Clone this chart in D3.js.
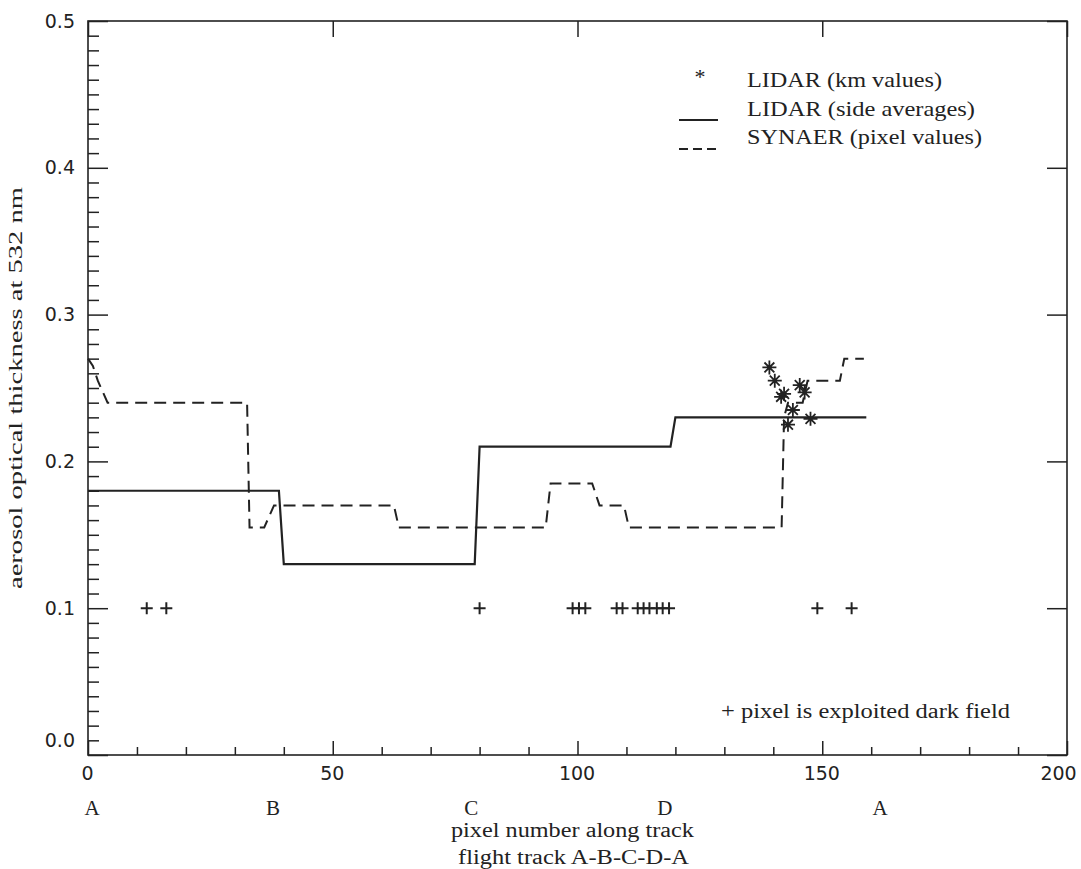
<!DOCTYPE html>
<html>
<head>
<meta charset="utf-8">
<script src="https://cdn.jsdelivr.net/npm/d3@7"></script>
<style>
  html, body { margin: 0; padding: 0; background: #fff; }
  svg { display: block; }
</style>
</head>
<body>
<svg id="chart" width="1081" height="869"></svg>
<script>
// ---------- data ----------
const yTicks = [0.0, 0.1, 0.2, 0.3, 0.4, 0.5];
const yTickLabels = ["0.0", "0.1", "0.2", "0.3", "0.4", "0.5"];
const xTicks = [0, 50, 100, 150, 200];
const xTickLabels = ["0", "50", "100", "150", "200"];

const cornerLabels = ["A", "B", "C", "D", "A"];
const cornerPixels = [0, 37, 77.5, 117, 161];

// LIDAR side averages (solid)
const lidarAvgX = [0, 39, 40, 79, 80, 119, 120, 159];
const lidarAvgY = [0.18, 0.18, 0.13, 0.13, 0.21, 0.21, 0.23, 0.23];

// SYNAER pixel values (dashed)
const synaerX = [0, 1, 2, 4, 32.5, 33, 36, 38, 62.5, 63.5, 93.5, 94.5, 103, 104.5, 109.5, 110.5, 141.7, 142.2, 143, 146, 147, 153.6, 154.5, 158.5];
const synaerY = [0.27, 0.265, 0.255, 0.24, 0.24, 0.155, 0.155, 0.17, 0.17, 0.155, 0.155, 0.185, 0.185, 0.17, 0.17, 0.155, 0.155, 0.23, 0.24, 0.24, 0.255, 0.255, 0.27, 0.27];

// LIDAR km values (asterisks)
const lidarKmX = [139.2, 140.3, 141.6, 142.2, 143.0, 144.0, 145.4, 146.4, 147.6];
const lidarKmY = [0.264, 0.255, 0.244, 0.246, 0.225, 0.235, 0.252, 0.247, 0.229];

// exploited dark-field pixels (+ at 0.1)
const darkFieldX = [12, 16, 80, 99, 100.3, 101.6, 108, 109.2, 112.3, 113.5, 114.7, 116.2, 117.4, 118.7, 149, 156];
const darkFieldY = 0.1;

// ---------- layout ----------
const L = 88, R = 1067, T = 21, B = 755;
const svg = d3.select("#chart");
const ink = "#222";
const serif = "Liberation Serif";
const sans = "DejaVu Sans";

const x = d3.scaleLinear().domain([0, 200]).range([L, R]);
const y = d3.scaleLinear().domain([0, 0.5]).range([B, T]);

// frame
svg.append("rect").attr("x", L).attr("y", T).attr("width", R - L).attr("height", B - T)
  .attr("fill", "none").attr("stroke", ink).attr("stroke-width", 1.6);

// ---------- y axes ----------
const yMinor = d3.range(0, 51).map(i => i / 100).filter(v => Math.round(v * 100) % 10 !== 0);
const gYL = svg.append("g").attr("transform", `translate(${L},0)`);
gYL.call(d3.axisLeft(y).tickValues(yMinor).tickSize(-11).tickFormat(""));
gYL.call(g => g.select(".domain").remove());
const gYL2 = svg.append("g").attr("transform", `translate(${L},0)`);
gYL2.call(d3.axisLeft(y).tickValues(yTicks).tickSize(-20).tickPadding(13)
  .tickFormat((d, i) => yTickLabels[i]));
gYL2.call(g => g.select(".domain").remove());
gYL2.selectAll("text").attr("font-family", sans).attr("font-size", 19).attr("fill", ink)
  .attr("dy", (d) => d === 0 ? "-0.45em" : "0.32em");

const gYR = svg.append("g").attr("transform", `translate(${R},0)`);
gYR.call(d3.axisRight(y).tickValues(yMinor).tickSize(-11).tickFormat(""));
gYR.call(d3.axisRight(y).tickValues(yTicks).tickSize(-20).tickFormat(""));
gYR.selectAll(".domain").remove();

// ---------- x axes ----------
const xOnes = d3.range(0, 161).filter(v => v % 10 !== 0);
const xTens = d3.range(0, 201, 10).filter(v => v % 50 !== 0);
const gXB = svg.append("g").attr("transform", `translate(0,${B})`);
gXB.call(d3.axisBottom(x).tickValues(xOnes).tickSize(-4).tickFormat(""));
gXB.call(d3.axisBottom(x).tickValues(xTens).tickSize(-8).tickFormat(""));
const gXB2 = svg.append("g").attr("transform", `translate(0,${B})`);
gXB2.call(d3.axisBottom(x).tickValues(xTicks).tickSize(-14).tickPadding(12)
  .tickFormat((d, i) => xTickLabels[i]));
gXB.selectAll(".domain").remove();
gXB2.selectAll(".domain").remove();
gXB2.selectAll("text").attr("font-family", sans).attr("font-size", 19).attr("fill", ink)
  .attr("dx", d => d === 200 ? -9 : -1);

const gXT = svg.append("g").attr("transform", `translate(0,${T})`);
gXT.call(d3.axisTop(x).tickValues(xTens).tickSize(-8).tickFormat(""));
gXT.call(d3.axisTop(x).tickValues(xTicks).tickSize(-16).tickFormat(""));
gXT.selectAll(".domain").remove();

svg.selectAll(".tick line").attr("stroke", ink).attr("stroke-width", 1.5);

// corner letters
svg.append("g").selectAll("text").data(cornerLabels).join("text")
  .attr("x", (d, i) => x(cornerPixels[i]) + 4)
  .attr("y", 815)
  .attr("text-anchor", "middle")
  .attr("font-family", serif).attr("font-size", 21).attr("fill", ink)
  .text(d => d);

// axis titles
svg.append("text").attr("x", x(100) - 5).attr("y", 837).attr("text-anchor", "middle")
  .attr("font-family", serif).attr("font-size", 20).attr("fill", ink)
  .attr("textLength", 243).attr("lengthAdjust", "spacingAndGlyphs")
  .text("pixel number along track");
svg.append("text").attr("x", x(100) - 4).attr("y", 864).attr("text-anchor", "middle")
  .attr("font-family", serif).attr("font-size", 20).attr("fill", ink)
  .attr("textLength", 231).attr("lengthAdjust", "spacingAndGlyphs")
  .text("flight track A-B-C-D-A");
svg.append("text")
  .attr("transform", "translate(22,388) rotate(-90)")
  .attr("text-anchor", "middle")
  .attr("font-family", serif).attr("font-size", 19).attr("fill", ink)
  .attr("textLength", 402).attr("lengthAdjust", "spacingAndGlyphs")
  .text("aerosol optical thickness at 532 nm");

// ---------- series ----------
const line = d3.line().x(d => x(d[0])).y(d => y(d[1]));

svg.append("path")
  .datum(synaerX.map((v, i) => [v, synaerY[i]]))
  .attr("d", line).attr("fill", "none")
  .attr("stroke", ink).attr("stroke-width", 2).attr("stroke-dasharray", "12,7");

svg.append("path")
  .datum(lidarAvgX.map((v, i) => [v, lidarAvgY[i]]))
  .attr("d", line).attr("fill", "none")
  .attr("stroke", ink).attr("stroke-width", 2.2);

// asterisks
function starPath(r) {
  const d = r * Math.SQRT1_2;
  return `M0,${-r}L0,${r}M${-r},0L${r},0M${-d},${-d}L${d},${d}M${-d},${d}L${d},${-d}`;
}
svg.append("g").selectAll("path").data(lidarKmX).join("path")
  .attr("transform", (d, i) => `translate(${x(d)},${y(lidarKmY[i])})`)
  .attr("d", starPath(7)).attr("stroke", ink).attr("stroke-width", 1.8).attr("fill", "none");

// plus markers
svg.append("g").selectAll("path").data(darkFieldX).join("path")
  .attr("transform", d => `translate(${x(d)},${y(darkFieldY)})`)
  .attr("d", "M-6,0L6,0M0,-6L0,6").attr("stroke", ink).attr("stroke-width", 2).attr("fill", "none");

// ---------- legend ----------
const lg = svg.append("g");
lg.append("text").attr("x", 700).attr("y", 84).attr("text-anchor", "middle")
  .attr("font-family", serif).attr("font-size", 22).attr("fill", ink).text("*");
lg.append("line").attr("x1", 679).attr("x2", 718).attr("y1", 120).attr("y2", 120)
  .attr("stroke", ink).attr("stroke-width", 2.2);
lg.append("line").attr("x1", 679).attr("x2", 718).attr("y1", 149).attr("y2", 149)
  .attr("stroke", ink).attr("stroke-width", 2).attr("stroke-dasharray", "9,5");
const legendTexts = ["LIDAR (km values)", "LIDAR (side averages)", "SYNAER (pixel values)"];
const legendWidths = [195, 228, 235];
lg.selectAll("text.lt").data(legendTexts).join("text").attr("class", "lt")
  .attr("x", 747).attr("y", (d, i) => 87 + i * 28.5)
  .attr("font-family", serif).attr("font-size", 21).attr("fill", ink)
  .attr("textLength", (d, i) => legendWidths[i]).attr("lengthAdjust", "spacingAndGlyphs")
  .text(d => d);

svg.append("text").attr("x", 721).attr("y", 718)
  .attr("font-family", serif).attr("font-size", 20).attr("fill", ink)
  .attr("textLength", 289).attr("lengthAdjust", "spacingAndGlyphs")
  .text("+ pixel is exploited dark field");
</script>
</body>
</html>
